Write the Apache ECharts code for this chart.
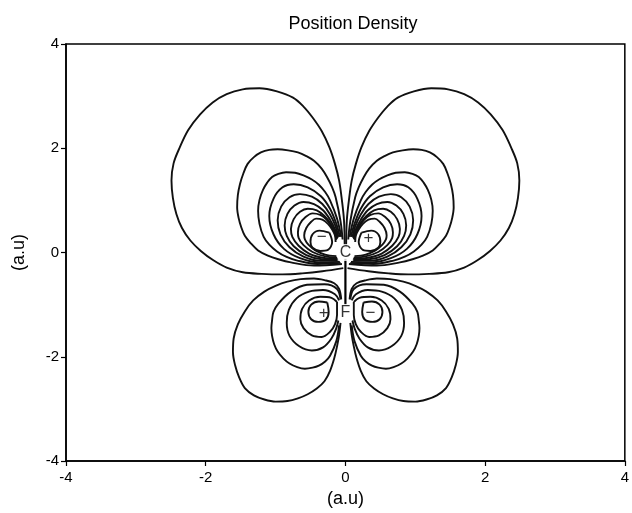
<!DOCTYPE html>
<html><head><meta charset="utf-8">
<script src="https://cdn.jsdelivr.net/npm/echarts@6/dist/echarts.min.js"></script>
<style>html,body{margin:0;padding:0;background:#fff}#c{width:632px;height:513px}</style>
</head><body><div id="c"></div>
<script>
// Axis ticks
const xTicks = [-4, -2, 0, 2, 4];
const yTicks = [-4, -2, 0, 2, 4];

// Contours of the upper (C-centred) lobe, right half, outer -> inner [x, y] in a.u.
const upper1 = [[0.03,-0.3],[0.33,-0.36],[0.62,-0.40],[0.9,-0.42],[1.2,-0.41],[1.47,-0.38],[1.7,-0.29],[1.89,-0.15],[2.07,0.03],[2.22,0.23],[2.34,0.47],[2.42,0.74],[2.47,1.05],[2.49,1.38],[2.46,1.71],[2.37,2.02],[2.25,2.35],[2.08,2.65],[1.90,2.88],[1.70,3.04],[1.47,3.13],[1.23,3.15],[0.98,3.09],[0.75,2.97],[0.6,2.8],[0.47,2.59],[0.34,2.33],[0.23,2.02],[0.15,1.7],[0.09,1.38],[0.05,1.0],[0.02,0.61],[0.01,0.1]];
const upper2 = [[0.05,-0.22],[0.45,-0.25],[0.78,-0.19],[0.96,-0.13],[1.11,-0.06],[1.25,0.04],[1.35,0.17],[1.44,0.32],[1.49,0.48],[1.53,0.67],[1.55,0.87],[1.54,1.1],[1.51,1.31],[1.46,1.52],[1.40,1.70],[1.31,1.83],[1.21,1.92],[1.09,1.97],[0.97,1.98],[0.82,1.96],[0.68,1.92],[0.56,1.85],[0.45,1.76],[0.34,1.61],[0.26,1.44],[0.19,1.25],[0.14,1.06],[0.07,0.6],[0.04,0.25]];
const upper3 = [[0.07,-0.2],[0.4,-0.22],[0.7,-0.15],[0.85,-0.08],[0.98,0.02],[1.09,0.15],[1.17,0.3],[1.23,0.55],[1.25,0.8],[1.23,1.01],[1.18,1.2],[1.12,1.34],[1.05,1.45],[0.96,1.51],[0.85,1.54],[0.72,1.53],[0.6,1.48],[0.48,1.4],[0.38,1.3],[0.29,1.16],[0.22,1.0],[0.12,0.65],[0.06,0.3]];
const upper4 = [[0.08,-0.18],[0.38,-0.19],[0.65,-0.11],[0.88,0.07],[1.03,0.35],[1.09,0.7],[1.03,1.03],[0.9,1.25],[0.74,1.31],[0.54,1.25],[0.35,1.08],[0.22,0.84],[0.13,0.55],[0.08,0.3]];
const upper5 = [[0.09,-0.16],[0.36,-0.16],[0.6,-0.08],[0.8,0.1],[0.93,0.35],[0.97,0.62],[0.92,0.88],[0.8,1.06],[0.65,1.12],[0.48,1.07],[0.33,0.93],[0.22,0.73],[0.14,0.5],[0.1,0.3]];
const upper6 = [[0.1,-0.14],[0.34,-0.13],[0.56,-0.05],[0.74,0.12],[0.84,0.32],[0.87,0.52],[0.83,0.74],[0.73,0.9],[0.6,0.97],[0.45,0.93],[0.32,0.81],[0.22,0.63],[0.15,0.45],[0.11,0.28]];
const upper7 = [[0.11,-0.12],[0.32,-0.1],[0.52,-0.02],[0.67,0.13],[0.76,0.3],[0.78,0.45],[0.74,0.64],[0.65,0.78],[0.54,0.84],[0.41,0.81],[0.3,0.7],[0.21,0.55],[0.15,0.4],[0.12,0.26]];
const upper8 = [[0.12,-0.1],[0.3,-0.07],[0.47,0.01],[0.6,0.14],[0.67,0.28],[0.68,0.39],[0.65,0.55],[0.57,0.68],[0.47,0.75],[0.36,0.72],[0.27,0.63],[0.2,0.5],[0.15,0.37],[0.13,0.24]];
const upper9 = [[0.13,-0.07],[0.29,-0.04],[0.43,0.04],[0.53,0.15],[0.58,0.25],[0.59,0.33],[0.56,0.47],[0.49,0.59],[0.42,0.65],[0.33,0.63],[0.25,0.55],[0.19,0.44],[0.15,0.33],[0.14,0.2]];
const upper10 = [[0.23,0.38],[0.37,0.42],[0.47,0.35],[0.5,0.2],[0.47,0.09],[0.36,0.03],[0.25,0.05],[0.19,0.2],[0.23,0.38]];

// Contours of the lower (F-centred) lobe, right half, outer -> inner
const lower1 = [[0.06,-0.9],[0.09,-0.7],[0.16,-0.59],[0.3,-0.53],[0.45,-0.5],[0.64,-0.51],[0.83,-0.56],[1.0,-0.64],[1.16,-0.75],[1.32,-0.92],[1.44,-1.13],[1.54,-1.38],[1.6,-1.65],[1.61,-1.91],[1.58,-2.16],[1.52,-2.4],[1.44,-2.6],[1.31,-2.74],[1.16,-2.82],[1.0,-2.86],[0.83,-2.85],[0.68,-2.8],[0.54,-2.72],[0.41,-2.61],[0.30,-2.47],[0.22,-2.27],[0.16,-2.03],[0.12,-1.8],[0.09,-1.58],[0.07,-1.35]];
const lower2 = [[0.07,-0.9],[0.12,-0.7],[0.3,-0.61],[0.55,-0.62],[0.78,-0.75],[0.96,-0.98],[1.03,-1.14],[1.05,-1.3],[1.06,-1.45],[1.05,-1.6],[1.02,-1.76],[0.97,-1.9],[0.89,-2.03],[0.8,-2.13],[0.69,-2.2],[0.58,-2.23],[0.47,-2.21],[0.38,-2.17],[0.29,-2.09],[0.22,-1.98],[0.13,-1.7],[0.09,-1.4]];
const lower3 = [[0.09,-0.92],[0.15,-0.8],[0.32,-0.72],[0.52,-0.75],[0.7,-0.88],[0.81,-1.1],[0.84,-1.35],[0.8,-1.6],[0.66,-1.8],[0.48,-1.88],[0.32,-1.82],[0.2,-1.65],[0.13,-1.45],[0.1,-1.3]];
const lower4 = [[0.12,-0.95],[0.2,-0.87],[0.36,-0.85],[0.52,-0.92],[0.62,-1.08],[0.645,-1.28],[0.6,-1.45],[0.48,-1.59],[0.34,-1.62],[0.22,-1.52],[0.15,-1.38],[0.12,-1.2],[0.12,-0.95]];
const lower5 = [[0.26,-0.96],[0.38,-0.94],[0.49,-1.0],[0.53,-1.14],[0.49,-1.28],[0.39,-1.33],[0.28,-1.29],[0.24,-1.14],[0.26,-0.96]];

// Atom labels and lobe signs
const atomNames = ['C', 'F'];
const atomPos = [[0, 0], [0, -1.15]];
const bond = [[0, -0.12], [0, -1.0]];
const signText = ['\u2212', '+', '+', '\u2212'];
const signPos = [[-0.34, 0.3], [0.33, 0.27], [-0.31, -1.17], [0.36, -1.17]];

const rightHalf = [upper1,upper2,upper3,upper4,upper5,upper6,upper7,upper8,upper9,upper10,
                   lower1,lower2,lower3,lower4,lower5];
// the picture is mirror-symmetric about x = 0
const leftHalf = rightHalf.map(c => c.map(p => [-p[0], p[1]]));

const FONT = 'Liberation Sans, Arial, Helvetica, sans-serif';
const series = [];
[...rightHalf, ...leftHalf].forEach(c => {
  series.push({
    type: 'line', data: c, smooth: 0.35, showSymbol: false, symbol: 'none',
    lineStyle: { color: '#111', width: 1.9 }, silent: true, animation: false, z: 2
  });
});
series.push({
  type: 'line', data: bond, showSymbol: false, symbol: 'none',
  lineStyle: { color: '#000', width: 2.2 }, animation: false, z: 3
});
series.push({
  type: 'scatter', symbolSize: 0, animation: false, z: 5,
  data: atomPos.map((p, i) => ({ value: p, label: { formatter: atomNames[i] } })),
  label: { show: true, position: 'inside', color: '#000', fontSize: 16, fontFamily: FONT,
           backgroundColor: '#fff', padding: [1, 2, 0, 2] }
});
series.push({
  type: 'scatter', symbolSize: 0, animation: false, z: 5,
  data: signPos.map((p, i) => ({ value: p, label: { formatter: signText[i] } })),
  label: { show: true, position: 'inside', color: '#000', fontSize: 17, fontFamily: FONT }
});

const chart = echarts.init(document.getElementById('c'));
chart.setOption({
  animation: false,
  backgroundColor: '#fff',
  title: { text: 'Position Density', left: 348, top: 10, textAlign: 'center',
           textStyle: { fontSize: 18, fontWeight: 'normal', color: '#000', fontFamily: FONT } },
  grid: { left: 66, right: 4, top: 44, bottom: 51, show: true, borderColor: '#000', borderWidth: 1.5, backgroundColor: 'transparent' },
  xAxis: {
    type: 'value', min: xTicks[0], max: xTicks[xTicks.length - 1], interval: 2,
    name: '(a.u)', nameLocation: 'middle', nameGap: 29,
    nameTextStyle: { fontSize: 18, color: '#000', fontFamily: FONT },
    axisLine: { show: true, onZero: false, lineStyle: { color: '#000', width: 1.5 } },
    axisTick: { show: true, inside: false, length: 5, lineStyle: { color: '#000', width: 1.2 } },
    axisLabel: { fontSize: 15, color: '#000', fontFamily: FONT, margin: 9 },
    splitLine: { show: false }
  },
  yAxis: {
    type: 'value', min: yTicks[0], max: yTicks[yTicks.length - 1], interval: 2,
    name: '(a.u)', nameLocation: 'middle', nameGap: 38,
    nameTextStyle: { fontSize: 18, color: '#000', fontFamily: FONT },
    axisLine: { show: true, onZero: false, lineStyle: { color: '#000', width: 1.5 } },
    axisTick: { show: true, inside: false, length: 5, lineStyle: { color: '#000', width: 1.2 } },
    axisLabel: { fontSize: 15, color: '#000', fontFamily: FONT, margin: 7 },
    splitLine: { show: false }
  },
  series: series
});
</script></body></html>
